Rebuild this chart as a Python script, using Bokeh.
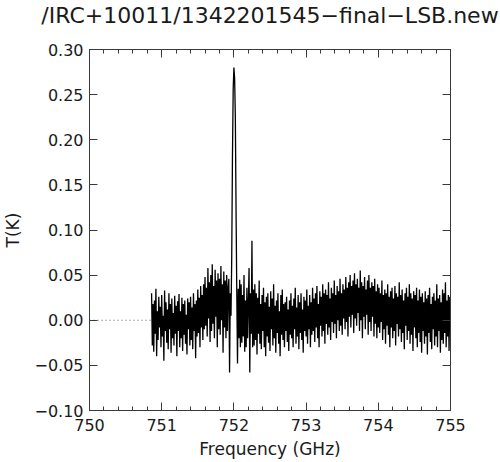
from bokeh.plotting import figure
from bokeh.models import Range1d, FixedTicker, LinearAxis, CustomJSTickFormatter
from bokeh.embed import file_html
from bokeh.resources import INLINE

title_text = "/IRC+10011/1342201545\u2212final\u2212LSB.new"
x_label = "Frequency (GHz)"
y_label = "T(K)"

x_min, x_max = 750.0, 755.0
y_min, y_max = -0.10, 0.30

# channel grid of the spectrum
freq_start = 750.86
chan_width = 0.01

# antenna temperature per channel (K)
t_k = [
    0.030, -0.028, 0.018, -0.035,
    0.022, -0.015, 0.035, -0.040, 0.010, -0.022, 0.026, -0.008, 0.015, -0.030,
    0.028, -0.018, 0.005, -0.045, 0.033, -0.012, 0.020, -0.025, 0.012, -0.032,
    0.030, -0.010, 0.018, -0.036, 0.024, -0.020, 0.008, -0.028, 0.027, -0.015,
    0.016, -0.040, 0.021, -0.012, 0.029, -0.030, 0.010, -0.020, 0.025, -0.034,
    0.018, -0.016, 0.022, -0.026, 0.006, -0.038, 0.024, -0.010, 0.020, -0.028,
    0.026, -0.022, 0.014, -0.032, 0.030, -0.012, 0.018, -0.042, 0.022, -0.018,
    0.034, -0.014, 0.025, -0.030, 0.038, -0.008, 0.028, -0.022, 0.040, -0.010,
    0.048, -0.006, 0.036, -0.018, 0.058, 0.002, 0.042, -0.024, 0.050, -0.012,
    0.062, -0.004, 0.038, -0.020, 0.056, 0.004, 0.044, -0.030, 0.052, -0.010,
    0.046, -0.016, 0.060, 0.000, 0.040, -0.036, 0.054, -0.008, 0.044, -0.020,
    0.050, -0.012, 0.036, 0.046, -0.058, 0.030, 0.005, 0.070, 0.180, 0.255,
    0.280, 0.268, 0.225, 0.120, 0.030, -0.048, 0.035, -0.020, 0.045, -0.030,
    0.040, -0.025, 0.028, -0.018, 0.050, -0.035, 0.022, -0.030, 0.036, -0.020,
    0.020, 0.058, -0.058, 0.030, -0.015, 0.088, -0.030, 0.034, -0.028, 0.040,
    -0.022, 0.030, -0.038, 0.025, -0.015, 0.044, -0.026, 0.018, -0.032, 0.028,
    -0.012, 0.036, -0.030, 0.020, -0.040, 0.026, -0.018, 0.030, -0.025, 0.015,
    -0.034, 0.032, -0.010, 0.024, -0.028, 0.040, -0.020, 0.016, -0.036, 0.022,
    -0.014, 0.030, -0.026, 0.010, -0.040, 0.028, -0.016, 0.034, -0.022, 0.018,
    -0.030, 0.020, -0.012, 0.026, -0.024, 0.012, -0.034, 0.022, -0.016, 0.030,
    -0.020, 0.016, -0.030, 0.024, -0.010, 0.036, -0.026, 0.014, -0.018, 0.028,
    -0.032, 0.020, -0.014, 0.030, -0.022, 0.012, -0.036, 0.026, -0.012, 0.022,
    -0.018, 0.034, -0.026, 0.016, -0.010, 0.028, -0.030, 0.020, -0.016, 0.036,
    -0.012, 0.024, -0.024, 0.030, -0.008, 0.038, -0.020, 0.018, -0.030, 0.032,
    -0.006, 0.026, -0.018, 0.040, -0.012, 0.030, -0.026, 0.034, -0.004, 0.028,
    -0.016, 0.042, -0.008, 0.024, -0.022, 0.036, -0.002, 0.030, -0.014, 0.044,
    -0.004, 0.028, -0.020, 0.038, 0.000, 0.032, -0.012, 0.046, -0.006, 0.030,
    -0.016, 0.040, 0.002, 0.034, -0.010, 0.048, -0.002, 0.036, -0.018, 0.042,
    0.004, 0.050, -0.008, 0.038, 0.006, 0.044, -0.014, 0.052, 0.002, 0.040,
    -0.006, 0.046, 0.008, 0.036, -0.012, 0.055, 0.000, 0.042, -0.020, 0.038,
    0.004, 0.048, -0.010, 0.034, 0.006, 0.044, -0.016, 0.050, -0.002, 0.036,
    -0.012, 0.042, 0.004, 0.038, -0.018, 0.046, -0.004, 0.032, -0.020, 0.040,
    -0.008, 0.036, -0.014, 0.030, -0.002, 0.044, -0.022, 0.028, -0.010, 0.034,
    -0.026, 0.030, -0.006, 0.040, -0.016, 0.026, -0.030, 0.032, -0.008, 0.036,
    -0.020, 0.024, -0.012, 0.038, -0.028, 0.030, -0.004, 0.026, -0.018, 0.042,
    -0.010, 0.028, -0.024, 0.034, -0.014, 0.022, -0.032, 0.030, -0.006, 0.036,
    -0.022, 0.026, -0.012, 0.040, -0.026, 0.030, -0.016, 0.024, -0.034, 0.032,
    -0.008, 0.028, -0.020, 0.036, -0.030, 0.022, -0.014, 0.034, -0.024, 0.026,
    -0.036, 0.030, -0.012, 0.020, -0.026, 0.032, -0.018, 0.024, -0.038, 0.028,
    -0.014, 0.036, -0.024, 0.018, -0.032, 0.026, -0.010, 0.030, -0.028, 0.022,
    -0.018, 0.040, -0.030, 0.024, -0.012, 0.028, -0.036, 0.020, -0.022, 0.034,
    -0.026, 0.030, -0.014, 0.042, -0.030, 0.022, -0.018, 0.028, -0.034, 0.026,
    -0.010,
]
freq = [round(freq_start + i * chan_width, 3) for i in range(len(t_k))]

x_major = [750, 751, 752, 753, 754, 755]
x_minor = [round(750 + 0.2 * i, 1) for i in range(26)]
y_major = [-0.10, -0.05, 0.00, 0.05, 0.10, 0.15, 0.20, 0.25, 0.30]

FONT = "DejaVu Sans"
TXT = "#1a1a1a"
AX = "#3a3a3a"

p = figure(width=500, height=462,
           x_range=Range1d(x_min, x_max), y_range=Range1d(y_min, y_max),
           output_backend="svg", toolbar_location=None,
           min_border_left=88, min_border_right=50,
           min_border_top=49, min_border_bottom=52,
           title=title_text, x_axis_label=x_label, y_axis_label=y_label)

p.background_fill_color = "white"
p.border_fill_color = "white"
p.outline_line_color = AX
p.outline_line_width = 1
p.grid.visible = False

p.title.text_font = FONT
p.title.text_font_size = "22px"
p.title.text_font_style = "normal"
p.title.text_color = TXT
p.title.align = "center"
p.title.vertical_align = "bottom"
p.title.standoff = 0

y_fmt = CustomJSTickFormatter(code="""
    const s = Math.abs(tick).toFixed(2);
    return (tick < -1e-9 ? '\\u2212' : '') + s;
""")
blank = CustomJSTickFormatter(code="return ' ';")

xa = p.xaxis[0]
xa.ticker = FixedTicker(ticks=x_major, minor_ticks=x_minor)
ya = p.yaxis[0]
ya.ticker = FixedTicker(ticks=y_major)
ya.formatter = y_fmt

for ax in (xa, ya):
    ax.axis_line_color = AX
    ax.major_tick_line_color = AX
    ax.minor_tick_line_color = AX
    ax.major_tick_in = 8
    ax.major_tick_out = 0
    ax.minor_tick_in = 4
    ax.minor_tick_out = 0
    ax.major_label_text_font = FONT
    ax.major_label_text_font_size = "16px"
    ax.major_label_text_color = TXT
    ax.axis_label_text_font = FONT
    ax.axis_label_text_font_size = "17px"
    ax.axis_label_text_font_style = "normal"
    ax.axis_label_text_color = TXT
ya.minor_tick_in = 0
xa.major_label_standoff = 8
xa.axis_label_standoff = 5
ya.major_label_standoff = 6
ya.axis_label_standoff = 8

top = LinearAxis(ticker=FixedTicker(ticks=x_major, minor_ticks=x_minor), formatter=blank)
right = LinearAxis(ticker=FixedTicker(ticks=y_major), formatter=blank)
for ax in (top, right):
    ax.axis_line_color = AX
    ax.major_tick_line_color = AX
    ax.minor_tick_line_color = AX
    ax.major_tick_in = 8
    ax.major_tick_out = 0
    ax.minor_tick_in = 4
    ax.minor_tick_out = 0
    ax.major_label_standoff = 0
    ax.major_label_text_font = FONT
top.major_label_text_font_size = "16px"
right.major_label_text_font_size = "1px"
right.minor_tick_in = 0
p.add_layout(top, "above")
p.add_layout(right, "right")

# dotted zero line before the data starts
p.line([x_min, freq[0]], [0.0, 0.0], line_color="#555555", line_width=1, line_dash="1 3")
p.line(freq, t_k, line_color="black", line_width=1.3)

open("out.html", "w").write(file_html(p, INLINE))
